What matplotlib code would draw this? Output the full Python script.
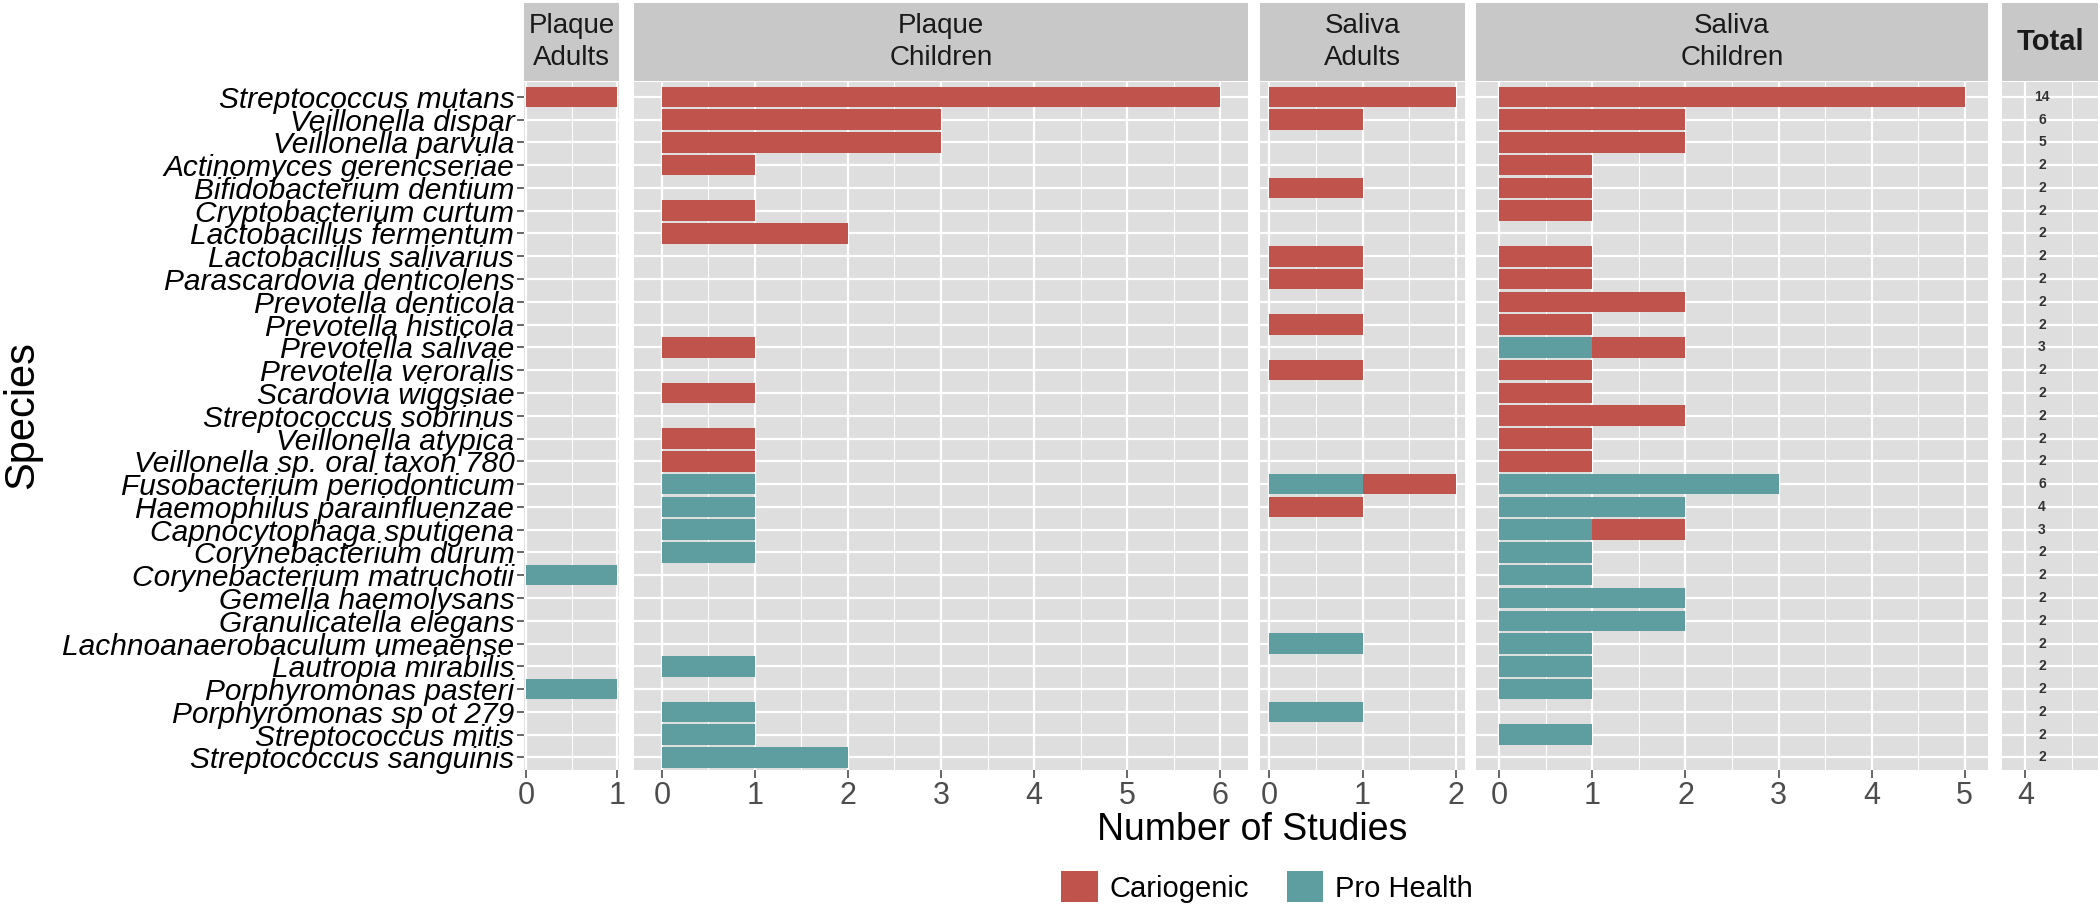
import numpy as np
import matplotlib.pyplot as plt
from matplotlib.patches import Patch

# dane (liczba badań)
species = ['Streptococcus mutans', 'Veillonella dispar', 'Veillonella parvula',
           'Actinomyces gerencseriae', 'Bifidobacterium dentium', 'Cryptobacterium curtum',
           'Lactobacillus fermentum', 'Lactobacillus salivarius', 'Parascardovia denticolens',
           'Prevotella denticola', 'Prevotella histicola', 'Prevotella salivae',
           'Prevotella veroralis', 'Scardovia wiggsiae', 'Streptococcus sobrinus',
           'Veillonella atypica', 'Veillonella sp. oral taxon 780', 'Fusobacterium periodonticum',
           'Haemophilus parainfluenzae', 'Capnocytophaga sputigena', 'Corynebacterium durum',
           'Corynebacterium matruchotii', 'Gemella haemolysans', 'Granulicatella elegans',
           'Lachnoanaerobaculum umeaense', 'Lautropia mirabilis', 'Porphyromonas pasteri',
           'Porphyromonas sp ot 279', 'Streptococcus mitis', 'Streptococcus sanguinis']

# Cariogenic / Pro Health dla każdego panelu
car_plaque_adults = [1, 0, 0, 0, 0, 0, 0, 0, 0, 0, 0, 0, 0, 0, 0,
                     0, 0, 0, 0, 0, 0, 0, 0, 0, 0, 0, 0, 0, 0, 0]
ph_plaque_adults = [0, 0, 0, 0, 0, 0, 0, 0, 0, 0, 0, 0, 0, 0, 0,
                    0, 0, 0, 0, 0, 0, 1, 0, 0, 0, 0, 1, 0, 0, 0]
car_plaque_children = [6, 3, 3, 1, 0, 1, 2, 0, 0, 0, 0, 1, 0, 1, 0,
                       1, 1, 0, 0, 0, 0, 0, 0, 0, 0, 0, 0, 0, 0, 0]
ph_plaque_children = [0, 0, 0, 0, 0, 0, 0, 0, 0, 0, 0, 0, 0, 0, 0,
                      0, 0, 1, 1, 1, 1, 0, 0, 0, 0, 1, 0, 1, 1, 2]
car_saliva_adults = [2, 1, 0, 0, 1, 0, 0, 1, 1, 0, 1, 0, 1, 0, 0,
                     0, 0, 1, 1, 0, 0, 0, 0, 0, 0, 0, 0, 0, 0, 0]
ph_saliva_adults = [0, 0, 0, 0, 0, 0, 0, 0, 0, 0, 0, 0, 0, 0, 0,
                    0, 0, 1, 0, 0, 0, 0, 0, 0, 1, 0, 0, 1, 0, 0]
car_saliva_children = [5, 2, 2, 1, 1, 1, 0, 1, 1, 2, 1, 1, 1, 1, 2,
                       1, 1, 0, 0, 1, 0, 0, 0, 0, 0, 0, 0, 0, 0, 0]
ph_saliva_children = [0, 0, 0, 0, 0, 0, 0, 0, 0, 0, 0, 1, 0, 0, 0,
                      0, 0, 3, 2, 1, 1, 1, 2, 2, 1, 1, 1, 0, 1, 0]
totals = [14, 6, 5, 2, 2, 2, 2, 2, 2, 2, 2, 3, 2, 2, 2,
          2, 2, 6, 4, 3, 2, 2, 2, 2, 2, 2, 2, 2, 2, 2]

RED = '#C0544D'
TEAL = '#5F9EA0'
BG = '#DEDEDE'
STRIP = '#C8C8C8'

plt.rcParams['font.family'] = ['Liberation Sans', 'DejaVu Sans']

W, H = 2100, 924
fig = plt.figure(figsize=(21, 9.24), dpi=100)


def box(x0, x1, y0, y1):
    # piksele -> współrzędne figury
    return [x0 / W, 1 - y1 / H, (x1 - x0) / W, (y1 - y0) / H]


PANEL_TOP, PANEL_BOT = 82, 770
STRIP_TOP, STRIP_BOT = 3, 81

panels = [
    ('Plaque\nAdults', car_plaque_adults, ph_plaque_adults, (-0.02, 1.02), 524, 619, [0, 1]),
    ('Plaque\nChildren', car_plaque_children, ph_plaque_children, (-0.3, 6.3), 634, 1248, range(7)),
    ('Saliva\nAdults', car_saliva_adults, ph_saliva_adults, (-0.1, 2.1), 1260, 1465, range(3)),
    ('Saliva\nChildren', car_saliva_children, ph_saliva_children, (-0.25, 5.25), 1476, 1988, range(6)),
]

y = np.arange(len(species))


def style_axis(ax, xlim, ticks):
    ax.set_facecolor(BG)
    minor = np.arange(np.floor(xlim[0]) + 0.5, xlim[1], 1.0)
    minor = minor[minor > xlim[0]]
    ax.set_xticks(list(ticks))
    ax.set_xticks(minor, minor=True)
    ax.set_yticks(y)
    # limity na końcu, bo set_xticks rozszerza zakres
    ax.set_xlim(xlim)
    ax.set_ylim(29.55, -0.65)
    ax.grid(which='major', color='white', lw=1.6)
    ax.grid(which='minor', axis='x', color='white', lw=0.8)
    ax.set_axisbelow(True)
    for s in ax.spines.values():
        s.set_visible(False)
    ax.tick_params(axis='x', which='major', length=6, width=1.2, color='#4D4D4D',
                   labelsize=22, labelcolor='#4D4D4D', pad=2)
    ax.tick_params(axis='x', which='minor', length=0)


def strip(x0, x1, title, **kw):
    sax = fig.add_axes(box(x0, x1, STRIP_TOP, STRIP_BOT))
    sax.set_facecolor(STRIP)
    sax.set_xticks([])
    sax.set_yticks([])
    for s in sax.spines.values():
        s.set_visible(False)
    sax.text(0.5, 0.5, title, ha='center', va='center', color='#1A1A1A',
             transform=sax.transAxes, **kw)


for i, (title, car, ph, xlim, x0, x1, ticks) in enumerate(panels):
    ax = fig.add_axes(box(x0, x1, PANEL_TOP, PANEL_BOT))
    ax.barh(y, ph, height=0.9, color=TEAL, zorder=3)
    ax.barh(y, car, left=ph, height=0.9, color=RED, zorder=3)
    style_axis(ax, xlim, ticks)
    if i == 0:
        ax.set_yticklabels(species, fontsize=21.5, style='italic', color='black')
        ax.tick_params(axis='y', length=5, width=1.2, color='#4D4D4D', pad=2)
    else:
        ax.set_yticklabels([])
        ax.tick_params(axis='y', length=0)
    strip(x0, x1, title, fontsize=20, linespacing=1.3)

# panel z sumą
ax = fig.add_axes(box(2002, 2098, PANEL_TOP, PANEL_BOT))
style_axis(ax, (3.75, 4.78), [4])
ax.set_yticklabels([])
ax.tick_params(axis='y', length=0)
for yi, t in zip(y, totals):
    ax.text(4.18, yi, str(t), ha='center', va='center', fontsize=10,
            fontweight='bold', color='#333333')
strip(2002, 2098, 'Total', fontsize=21, fontweight='bold')

fig.text(1252 / W, 1 - 830 / H, 'Number of Studies', ha='center', va='center', fontsize=27)
fig.text(22 / W, 1 - 415 / H, 'Species', ha='center', va='center', fontsize=30, rotation=90)

handles = [Patch(facecolor=RED, label='Cariogenic'), Patch(facecolor=TEAL, label='Pro Health')]
fig.legend(handles=handles, loc='center', bbox_to_anchor=(1267 / W, 1 - 887 / H), ncol=2,
           frameon=False, fontsize=21, handlelength=1.25, handleheight=1.25,
           handletextpad=0.4, columnspacing=1.3)

fig.savefig('out.png', dpi=100)
